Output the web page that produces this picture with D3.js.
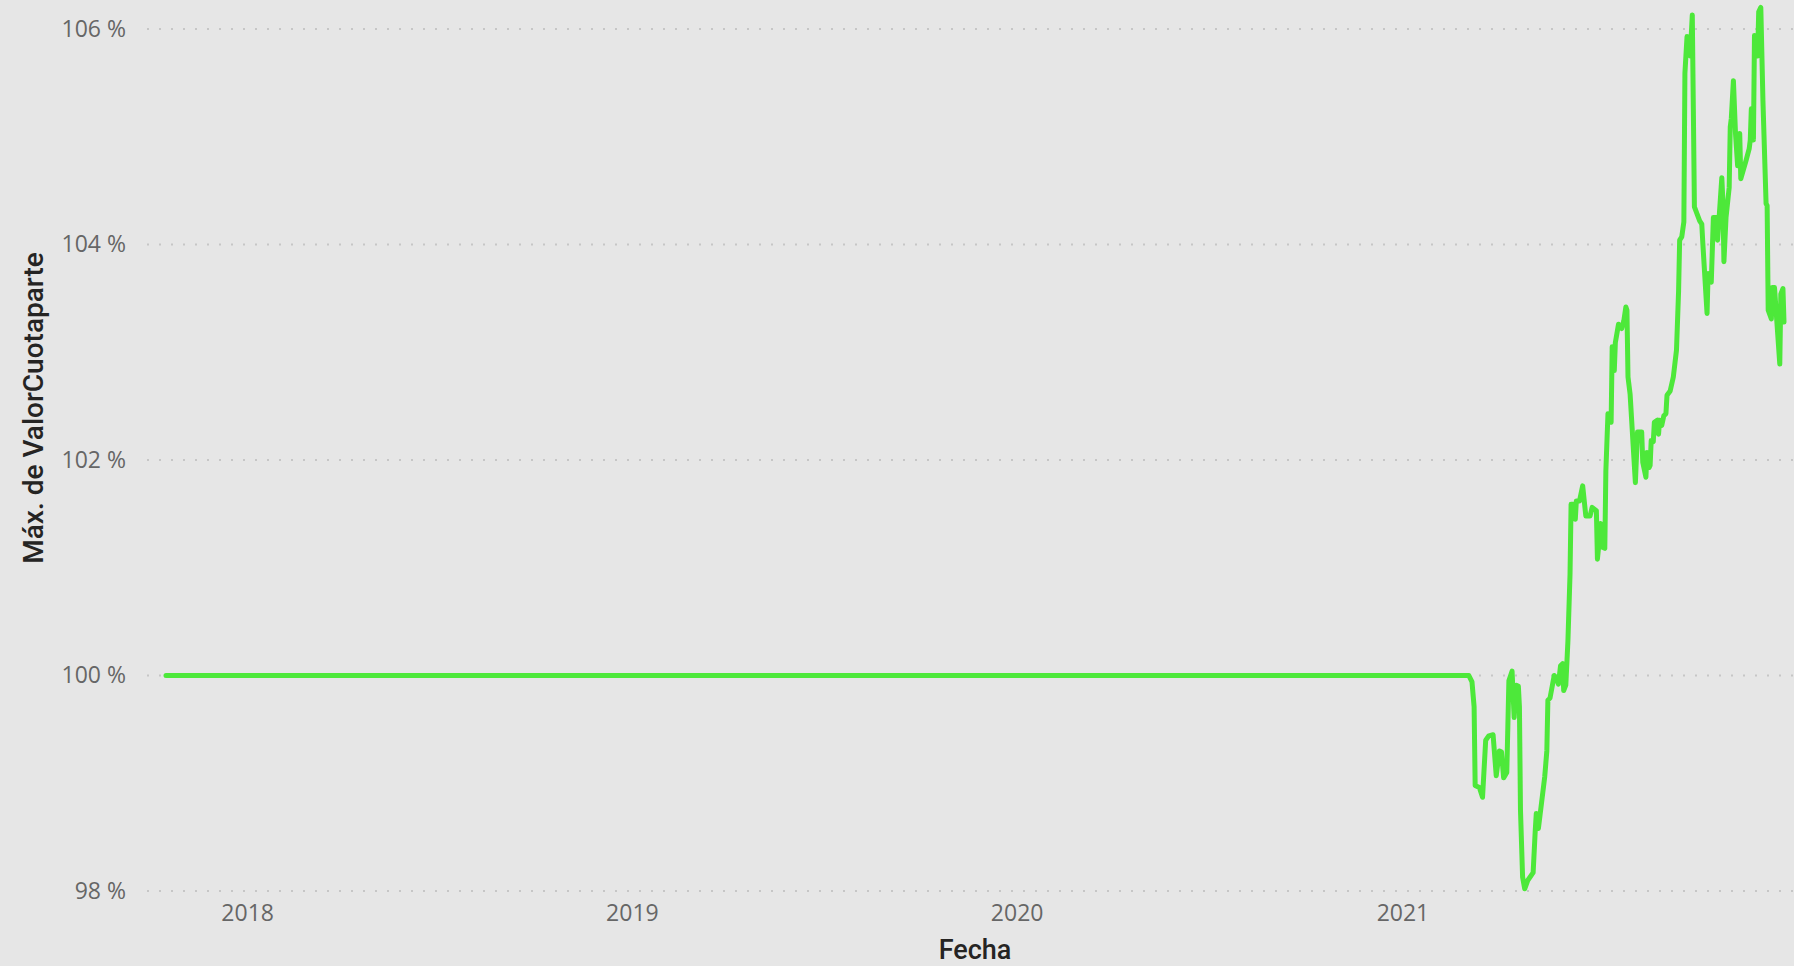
<!DOCTYPE html>
<html>
<head>
<meta charset="utf-8">
<script src="https://cdn.jsdelivr.net/npm/d3@7"></script>
<style>
  html, body { margin: 0; padding: 0; background: #e6e6e6; }
  svg { display: block; }
</style>
</head>
<body>
<div id="chart"></div>
<script>
// fechas y valores
var fechas = ["2017-10-16","2021-03-05","2021-03-08","2021-03-10","2021-03-11","2021-03-15","2021-03-18","2021-03-21","2021-03-24","2021-03-28","2021-03-31","2021-04-03","2021-04-05","2021-04-07","2021-04-10","2021-04-11","2021-04-12","2021-04-15","2021-04-17","2021-04-19","2021-04-21","2021-04-22","2021-04-23","2021-04-25","2021-04-27","2021-04-30","2021-05-05","2021-05-07","2021-05-08","2021-05-10","2021-05-16","2021-05-18","2021-05-19","2021-05-21","2021-05-25","2021-05-27","2021-05-29","2021-05-31","2021-06-02","2021-06-03","2021-06-05","2021-06-07","2021-06-09","2021-06-10","2021-06-12","2021-06-14","2021-06-15","2021-06-18","2021-06-21","2021-06-24","2021-06-28","2021-06-30","2021-07-04","2021-07-05","2021-07-06","2021-07-08","2021-07-10","2021-07-12","2021-07-13","2021-07-15","2021-07-18","2021-07-19","2021-07-21","2021-07-22","2021-07-25","2021-07-28","2021-07-30","2021-08-01","2021-08-02","2021-08-03","2021-08-05","2021-08-10","2021-08-12","2021-08-16","2021-08-17","2021-08-20","2021-08-21","2021-08-23","2021-08-24","2021-08-25","2021-08-27","2021-08-28","2021-08-31","2021-09-01","2021-09-02","2021-09-04","2021-09-06","2021-09-08","2021-09-09","2021-09-12","2021-09-15","2021-09-18","2021-09-20","2021-09-21","2021-09-23","2021-09-25","2021-09-26","2021-09-28","2021-10-01","2021-10-03","2021-10-04","2021-10-05","2021-10-10","2021-10-12","2021-10-13","2021-10-17","2021-10-18","2021-10-21","2021-10-23","2021-10-26","2021-10-27","2021-10-31","2021-11-01","2021-11-02","2021-11-04","2021-11-07","2021-11-08","2021-11-09","2021-11-11","2021-11-13","2021-11-15","2021-11-17","2021-11-18","2021-11-23","2021-11-26","2021-11-27","2021-11-28","2021-11-30","2021-12-01","2021-12-04","2021-12-05","2021-12-07","2021-12-09","2021-12-12","2021-12-13","2021-12-14","2021-12-17","2021-12-18","2021-12-20","2021-12-25","2021-12-26","2021-12-28","2021-12-29"];

var valores = [100.00,100.00,99.94,99.71,98.98,98.96,98.87,99.40,99.44,99.45,99.07,99.30,99.29,99.05,99.10,99.52,99.95,100.04,99.61,99.91,99.90,99.71,98.75,98.13,98.02,98.10,98.17,98.56,98.72,98.58,99.06,99.30,99.77,99.79,100.00,99.98,99.92,100.09,100.11,99.86,99.91,100.32,100.94,101.59,101.59,101.45,101.62,101.62,101.76,101.48,101.48,101.56,101.53,101.08,101.18,101.41,101.19,101.18,101.90,102.43,102.35,103.05,102.83,103.09,103.26,103.22,103.29,103.42,103.39,102.77,102.61,101.79,102.26,102.26,101.98,101.84,102.07,101.93,101.95,102.18,102.17,102.35,102.37,102.24,102.37,102.32,102.41,102.43,102.60,102.64,102.77,103.02,103.57,104.04,104.07,104.21,105.59,105.93,105.75,106.13,105.25,104.35,104.22,104.19,104.01,103.36,103.73,103.65,104.25,104.25,104.04,104.62,104.41,103.84,104.25,104.53,105.09,105.17,105.52,105.03,104.73,105.03,104.61,104.78,104.89,104.97,105.26,104.97,105.94,105.75,106.16,106.20,105.34,104.38,104.36,103.39,103.31,103.60,103.60,102.89,103.54,103.59,103.28];

var yTicks = [98, 100, 102, 104, 106];
var xTitulo = "Fecha";
var yTitulo = "Máx. de ValorCuotaparte";

var W = 1794, H = 966;
var gridLeft = 147;

var parse = d3.timeParse("%Y-%m-%d");
var data = fechas.map(function(f, i) { return {fecha: parse(f), valor: valores[i]}; });

var x = d3.scaleTime()
    .domain(d3.extent(data, function(d) { return d.fecha; }))
    .range([166, 1784]);

var y = d3.scaleLinear()
    .domain([98, 106])
    .range([891, 29]);

var svg = d3.select("#chart").append("svg")
    .attr("width", W)
    .attr("height", H);

svg.append("rect").attr("width", W).attr("height", H).attr("fill", "#e6e6e6");

// lineas de grilla punteadas
svg.append("g")
    .selectAll("line")
    .data(yTicks)
    .enter().append("line")
    .attr("x1", gridLeft)
    .attr("x2", W)
    .attr("y1", function(d) { return y(d); })
    .attr("y2", function(d) { return y(d); })
    .attr("stroke", "#c6c6c6")
    .attr("stroke-width", 2)
    .attr("stroke-dasharray", "2,10");

var yAxis = d3.axisLeft(y)
    .tickValues(yTicks)
    .tickSize(0)
    .tickPadding(21)
    .tickFormat(function(d) { return d + " %"; });

var gy = svg.append("g")
    .attr("transform", "translate(" + gridLeft + ",0)")
    .call(yAxis);
gy.select(".domain").remove();
gy.selectAll("text")
    .style("font", "23px 'Segoe UI', 'Open Sans', sans-serif")
    .style("fill", "#666666");

var xAxis = d3.axisBottom(x)
    .ticks(d3.timeYear.every(1))
    .tickSize(0)
    .tickPadding(14)
    .tickFormat(d3.timeFormat("%Y"));

var gx = svg.append("g")
    .attr("transform", "translate(0,891)")
    .call(xAxis);
gx.select(".domain").remove();
gx.selectAll("text")
    .style("font", "23px 'Segoe UI', 'Open Sans', sans-serif")
    .style("fill", "#666666");

var line = d3.line()
    .x(function(d) { return x(d.fecha); })
    .y(function(d) { return y(d.valor); });

svg.append("path")
    .datum(data)
    .attr("d", line)
    .attr("fill", "none")
    .attr("stroke", "#4de83a")
    .attr("stroke-width", 5)
    .attr("stroke-linejoin", "round")
    .attr("stroke-linecap", "round");

svg.append("text")
    .attr("x", 975)
    .attr("y", 959)
    .attr("text-anchor", "middle")
    .style("font", "500 27px Roboto, sans-serif")
    .style("fill", "#252423")
    .text(xTitulo);

svg.append("text")
    .attr("transform", "translate(43,408) rotate(-90)")
    .attr("text-anchor", "middle")
    .style("font", "500 28px Roboto, sans-serif")
    .style("fill", "#252423")
    .text(yTitulo);
</script>
</body>
</html>
